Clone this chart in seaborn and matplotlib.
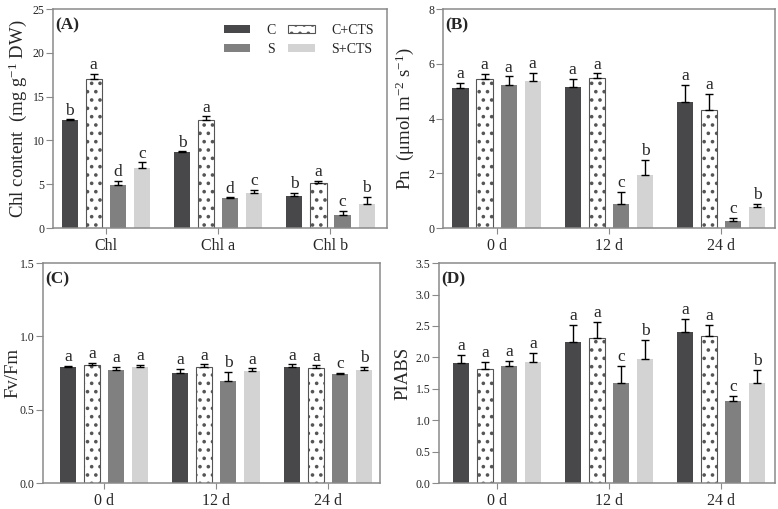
import numpy as np
import pandas as pd
import matplotlib
matplotlib.use("Agg")
import matplotlib.pyplot as plt
from matplotlib.patches import Patch
import seaborn as sns

treatments = ["C", "C+CTS", "S", "S+CTS"]
colors = ["#48474a", "#ffffff", "#808080", "#d3d3d3"]

chl_groups = ["Chl", "Chl a", "Chl b"]
day_groups = ["0 d", "12 d", "24 d"]

# values per group, order: C, C+CTS, S, S+CTS
chl_mean = [[12.3, 17.0, 4.95, 6.8], [8.7, 12.3, 3.4, 4.0], [3.7, 5.1, 1.5, 2.8]]
chl_err = [[0.1, 0.65, 0.4, 0.7], [0.05, 0.45, 0.1, 0.35], [0.27, 0.27, 0.42, 0.8]]
chl_let = [["b", "a", "d", "c"], ["b", "a", "d", "c"], ["b", "a", "c", "b"]]

pn_mean = [[5.13, 5.45, 5.23, 5.39], [5.16, 5.49, 0.89, 1.95], [4.6, 4.33, 0.27, 0.77]]
pn_err = [[0.16, 0.18, 0.31, 0.28], [0.3, 0.16, 0.43, 0.53], [0.63, 0.56, 0.1, 0.1]]
pn_let = [["a", "a", "a", "a"], ["a", "a", "c", "b"], ["a", "a", "c", "b"]]

fv_mean = [[0.79, 0.807, 0.768, 0.789], [0.748, 0.789, 0.698, 0.764], [0.793, 0.784, 0.743, 0.77]]
fv_err = [[0.01, 0.012, 0.023, 0.016], [0.032, 0.02, 0.059, 0.018], [0.016, 0.018, 0.007, 0.025]]
fv_let = [["a", "a", "a", "a"], ["a", "a", "b", "a"], ["a", "a", "c", "b"]]

pi_mean = [[1.91, 1.82, 1.86, 1.93], [2.24, 2.31, 1.6, 1.98], [2.41, 2.34, 1.3, 1.6]]
pi_err = [[0.13, 0.11, 0.08, 0.14], [0.28, 0.26, 0.26, 0.3], [0.2, 0.17, 0.09, 0.2]]
pi_let = [["a", "a", "a", "a"], ["a", "a", "c", "b"], ["a", "a", "c", "b"]]

sns.set_style("ticks")
plt.rcParams["font.family"] = ["Liberation Serif", "DejaVu Serif"]
plt.rcParams["hatch.linewidth"] = 1.4
plt.rcParams["hatch.color"] = "black"
plt.rcParams["mathtext.fontset"] = "custom"
plt.rcParams["mathtext.rm"] = "Liberation Serif"
plt.rcParams["mathtext.it"] = "Liberation Serif:italic"

spine_col = "#8a8a8a"

fig = plt.figure(figsize=(7.78, 5.09), dpi=100)


def panel(rect, groups, mean, err, letters, ylim, yticks, fmt, ylabel, tag, xlim, lpad):
    ax = fig.add_axes(rect)
    rows = []
    for g, m in zip(groups, mean):
        for t, v in zip(treatments, m):
            rows.append({"group": g, "treat": t, "value": v})
    df = pd.DataFrame(rows)
    sns.barplot(data=df, x="group", y="value", hue="treat", hue_order=treatments,
                palette=colors, width=0.857, gap=0.33, errorbar=None,
                legend=False, ax=ax, saturation=1, linewidth=0)
    bar_conts = list(ax.containers)
    for i, cont in enumerate(bar_conts):
        for j, bar in enumerate(cont):
            if treatments[i] == "C+CTS":
                bar.set_hatch("..")
                bar.set_edgecolor("#555555")
                bar.set_linewidth(0.8)
            x = bar.get_x() + bar.get_width() / 2
            h = bar.get_height()
            e = err[j][i]
            ax.errorbar(x, h, yerr=[[0], [e]], fmt="none", ecolor="black",
                        elinewidth=1.0, capsize=2.8, capthick=1.0)
            ax.annotate(letters[j][i], (x, h + e), xytext=(0, 3.5),
                        textcoords="offset points", ha="center", va="baseline",
                        fontsize=12.5)
    ax.set_ylim(*ylim)
    ax.set_xlim(*xlim)
    ax.set_yticks(yticks)
    ax.set_yticklabels([fmt.format(v) for v in yticks], fontsize=8.5)
    ax.tick_params(axis="x", labelsize=11.5, length=4.5, color=spine_col, pad=3)
    ax.tick_params(axis="y", length=5, color=spine_col, pad=1)
    ax.set_xlabel("")
    ax.set_ylabel(ylabel, fontsize=13.5, labelpad=lpad)
    for s in ax.spines.values():
        s.set_visible(True)
        s.set_color(spine_col)
        s.set_linewidth(1.1)
    ax.text(0.008, 0.927, tag, transform=ax.transAxes, fontsize=12.5,
            fontweight="bold", va="center", ha="left")
    return ax


axA = panel([0.068, 0.552, 0.429, 0.430], chl_groups, chl_mean, chl_err, chl_let,
            (0, 25), [0, 5, 10, 15, 20, 25], "{:g}",
            r"Chl content  (mg g$^{-1}$ DW)", "(A)", (-0.47, 2.5), 3)
axB = panel([0.569, 0.552, 0.427, 0.430], day_groups, pn_mean, pn_err, pn_let,
            (0, 8), [0, 2, 4, 6, 8], "{:g}",
            r"Pn  (μmol m$^{-2}$ s$^{-1}$)", "(B)", (-0.48, 2.48), 9)
axC = panel([0.055, 0.051, 0.433, 0.432], day_groups, fv_mean, fv_err, fv_let,
            (0, 1.5), [0.0, 0.5, 1.0, 1.5], "{:.1f}",
            "Fv/Fm", "(C)", (-0.55, 2.46), -1)
axD = panel([0.564, 0.051, 0.432, 0.432], day_groups, pi_mean, pi_err, pi_let,
            (0, 3.5), [0.0, 0.5, 1.0, 1.5, 2.0, 2.5, 3.0, 3.5], "{:.1f}",
            "PIABS", "(D)", (-0.52, 2.48), 3)

handles = []
for t, c in zip(treatments, colors):
    if t == "C+CTS":
        handles.append(Patch(facecolor=c, edgecolor="#555555", hatch="..",
                             linewidth=0.8, label=t))
    else:
        handles.append(Patch(facecolor=c, edgecolor="none", label=t))
order = [0, 2, 1, 3]
axA.legend([handles[k] for k in order], [treatments[k] for k in order],
           ncol=2, loc="upper right", frameon=False, fontsize=10,
           handlelength=1.9, handleheight=0.5, columnspacing=0.9,
           handletextpad=1.2, labelspacing=0.45, bbox_to_anchor=(1.0, 0.99))

fig.savefig("out.png", dpi=100)
